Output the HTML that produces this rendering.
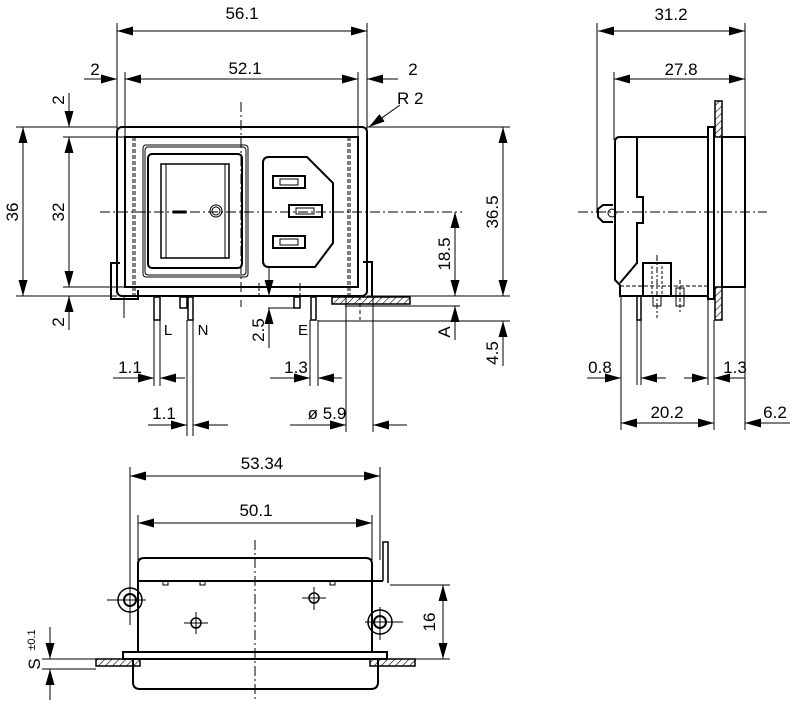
<!DOCTYPE html>
<html><head><meta charset="utf-8"><style>
html,body{margin:0;padding:0;background:#fff;}
svg{display:block;}
text{font-family:"Liberation Sans",Arial,sans-serif;font-size:17px;fill:#000;}
</style></head><body>
<svg width="790" height="702" viewBox="0 0 790 702" xmlns="http://www.w3.org/2000/svg">
<defs>
<marker id="a" markerWidth="16" markerHeight="9" refX="16" refY="4.5" orient="auto-start-reverse" markerUnits="userSpaceOnUse"><path d="M0,0 L16,4.5 L0,9 z" fill="#000"/></marker>
<pattern id="h" width="5" height="5" patternUnits="userSpaceOnUse" patternTransform="rotate(45)"><line x1="0" y1="0" x2="0" y2="5" stroke="#000" stroke-width="1.2"/></pattern>
</defs>
<g stroke="#000" fill="none" stroke-width="1">
<line x1="117" y1="23" x2="117" y2="130"/><line x1="367" y1="23" x2="367" y2="130"/>
<line x1="125" y1="72" x2="125" y2="137"/><line x1="358" y1="72" x2="358" y2="137"/>
<line x1="16" y1="127" x2="117" y2="127"/><line x1="367" y1="127" x2="510" y2="127"/>
<line x1="16" y1="296" x2="117" y2="296"/><line x1="367" y1="296" x2="510" y2="296"/>
<line x1="63" y1="137" x2="125" y2="137"/><line x1="63" y1="287" x2="125" y2="287"/>
<line x1="117" y1="31" x2="367" y2="31" marker-start="url(#a)" marker-end="url(#a)"/>
<line x1="125" y1="79" x2="358" y2="79" marker-start="url(#a)" marker-end="url(#a)"/>
<line x1="84" y1="79" x2="117" y2="79" marker-end="url(#a)"/>
<line x1="398" y1="79" x2="367" y2="79" marker-end="url(#a)"/>
<line x1="23" y1="127" x2="23" y2="296" marker-start="url(#a)" marker-end="url(#a)"/>
<line x1="69" y1="137" x2="69" y2="287" marker-start="url(#a)" marker-end="url(#a)"/>
<line x1="69" y1="93" x2="69" y2="127" marker-end="url(#a)"/>
<line x1="69" y1="330" x2="69" y2="296" marker-end="url(#a)"/>
<line x1="455" y1="212" x2="455" y2="296" marker-start="url(#a)" marker-end="url(#a)"/>
<line x1="455" y1="340" x2="455" y2="306" marker-end="url(#a)"/>
<line x1="345" y1="306" x2="460" y2="306"/>
<line x1="318" y1="321" x2="510" y2="321"/>
<line x1="503" y1="127" x2="503" y2="296" marker-start="url(#a)" marker-end="url(#a)"/>
<line x1="503" y1="366" x2="503" y2="321" marker-end="url(#a)"/>
<line x1="269" y1="267" x2="269" y2="296" marker-end="url(#a)"/>
<line x1="269" y1="348" x2="269" y2="308" marker-end="url(#a)"/>
<line x1="268" y1="308" x2="300" y2="308"/>
<line x1="400" y1="105" x2="369" y2="127" marker-end="url(#a)"/>
<line x1="113" y1="378" x2="154" y2="378" marker-end="url(#a)"/>
<line x1="185" y1="378" x2="160" y2="378" marker-end="url(#a)"/>
<line x1="148" y1="425" x2="187" y2="425" marker-end="url(#a)"/>
<line x1="228" y1="425" x2="193" y2="425" marker-end="url(#a)"/>
<line x1="270" y1="378" x2="310" y2="378" marker-end="url(#a)"/>
<line x1="342" y1="378" x2="318" y2="378" marker-end="url(#a)"/>
<line x1="290" y1="425" x2="346" y2="425" marker-end="url(#a)"/>
<line x1="407" y1="425" x2="373" y2="425" marker-end="url(#a)"/>
<line x1="346" y1="297" x2="346" y2="432"/><line x1="373" y1="297" x2="373" y2="432"/>
<line x1="241" y1="102" x2="241" y2="307" stroke-dasharray="10,3,2,3"/>
<line x1="100" y1="212" x2="462" y2="212" stroke-dasharray="10,3,2,3"/>
<line x1="124" y1="296" x2="124" y2="318"/>
<line x1="360" y1="296" x2="360" y2="320" stroke-dasharray="4,3"/>
<rect x="117" y="127" width="250" height="169" rx="5" stroke-width="2"/>
<rect x="125" y="137" width="233" height="150" stroke-width="2"/>
<line x1="133" y1="137" x2="133" y2="296" stroke-dasharray="4,2"/>
<line x1="135" y1="137" x2="135" y2="296" stroke-dasharray="4,2"/>
<line x1="348" y1="137" x2="348" y2="296" stroke-dasharray="4,2"/>
<line x1="350" y1="137" x2="350" y2="296" stroke-dasharray="4,2"/>
<rect x="143" y="145" width="105" height="132" rx="3"/>
<rect x="145" y="147" width="101" height="128" rx="3"/>
<rect x="148" y="154" width="94" height="114" rx="4" stroke-width="2"/>
<rect x="161" y="164" width="68" height="94" stroke-width="1.5"/>
<line x1="166" y1="164" x2="166" y2="258"/><line x1="225" y1="164" x2="225" y2="258"/>
<rect x="173" y="211" width="13" height="2" fill="#000"/>
<circle cx="216" cy="211" r="6"/><circle cx="216" cy="211" r="4"/>
<path d="M269,157 L307,157 L333,183 L333,243 L315,267 L269,267 Q263,267 263,261 L263,163 Q263,157 269,157 Z" stroke-width="2"/>
<rect x="273" y="176" width="32" height="12" stroke-width="2"/><rect x="280" y="179" width="18" height="6"/>
<rect x="289" y="205" width="33" height="12" stroke-width="2"/><rect x="296" y="208" width="18" height="6"/>
<rect x="273" y="236" width="32" height="12" stroke-width="2"/><rect x="280" y="239" width="18" height="6"/>
<path d="M120,263 L111,263 L111,299 L138,299 L138,290" stroke-width="2"/>
<path d="M363,262 L372,262 L372,296" stroke-width="2"/>
<line x1="259" y1="283" x2="259" y2="296" stroke-dasharray="3,2"/><line x1="300" y1="283" x2="300" y2="296" stroke-dasharray="3,2"/>
<rect x="154" y="297" width="6" height="23" stroke-width="1.5"/>
<line x1="154" y1="320" x2="154" y2="386"/><line x1="160" y1="320" x2="160" y2="386"/>
<rect x="180" y="297" width="7" height="11" stroke-width="1.5"/>
<rect x="188" y="297" width="5" height="23" stroke-width="1.5"/>
<line x1="187" y1="320" x2="187" y2="436"/><line x1="193" y1="320" x2="193" y2="436"/>
<rect x="294" y="297" width="6" height="11" stroke-width="1.5"/>
<rect x="311" y="297" width="5" height="23" stroke-width="1.5"/>
<line x1="310" y1="320" x2="310" y2="386"/><line x1="318" y1="320" x2="318" y2="386"/>
<rect x="332" y="297" width="78" height="7" fill="url(#h)" stroke-width="1.5"/>

<line x1="597" y1="23" x2="597" y2="213"/><line x1="745" y1="23" x2="745" y2="430"/>
<line x1="614" y1="72" x2="614" y2="140"/>
<line x1="598" y1="31" x2="745" y2="31" marker-start="url(#a)" marker-end="url(#a)"/>
<line x1="614" y1="79" x2="745" y2="79" marker-start="url(#a)" marker-end="url(#a)"/>
<line x1="578" y1="212" x2="767" y2="212" stroke-dasharray="10,3,2,3"/>
<path d="M620,137 L708,137 M620,137 Q615,137 615,142 L615,280 L620,285 L620,296 L708,296" stroke-width="2"/>
<path d="M637,137 L637,197 L643,197 L643,223 L637,223 L637,263 L620,283" stroke-width="2"/>
<line x1="620" y1="286" x2="708" y2="286" stroke-dasharray="4,2"/>
<rect x="708" y="127" width="6" height="172" stroke-width="2"/>
<rect x="715" y="101" width="7" height="36" fill="url(#h)" stroke-width="1.5"/>
<rect x="715" y="287" width="7" height="33" fill="url(#h)" stroke-width="1.5"/>
<rect x="722" y="137" width="23" height="150" stroke-width="2"/>
<rect x="643" y="263" width="28" height="33" stroke-width="2"/>
<line x1="652" y1="266" x2="652" y2="296" stroke-dasharray="3,2"/><line x1="662" y1="266" x2="662" y2="296" stroke-dasharray="3,2"/>
<line x1="657" y1="255" x2="657" y2="318" stroke-dasharray="6,2,2,2"/>
<rect x="653" y="296" width="8" height="10"/>
<rect x="676" y="288" width="8" height="18"/>
<line x1="680" y1="280" x2="680" y2="312" stroke-dasharray="4,2"/>
<path d="M613,205 L603,205 L598,209 L598,217 L603,222 L613,222" stroke-width="2"/>
<circle cx="612" cy="213" r="4"/>
<rect x="637" y="296" width="4" height="24" stroke-width="1.5"/>
<line x1="637" y1="320" x2="637" y2="385"/><line x1="641" y1="320" x2="641" y2="385"/>
<line x1="621" y1="296" x2="621" y2="430"/><line x1="708" y1="299" x2="708" y2="385"/><line x1="714" y1="320" x2="714" y2="430"/>
<line x1="587" y1="378" x2="621" y2="378" marker-end="url(#a)"/>
<line x1="666" y1="378" x2="641" y2="378" marker-end="url(#a)"/>
<line x1="684" y1="378" x2="708" y2="378" marker-end="url(#a)"/>
<line x1="745" y1="378" x2="714" y2="378" marker-end="url(#a)"/>
<line x1="621" y1="423" x2="714" y2="423" marker-start="url(#a)" marker-end="url(#a)"/>
<line x1="790" y1="423" x2="745" y2="423" marker-end="url(#a)"/>

<line x1="130" y1="467" x2="130" y2="625"/><line x1="380" y1="467" x2="380" y2="560"/>
<line x1="138" y1="515" x2="138" y2="560"/><line x1="372" y1="515" x2="372" y2="560"/>
<line x1="130" y1="476" x2="380" y2="476" marker-start="url(#a)" marker-end="url(#a)"/>
<line x1="138" y1="523" x2="372" y2="523" marker-start="url(#a)" marker-end="url(#a)"/>
<line x1="255" y1="540" x2="255" y2="702" stroke-dasharray="10,3,2,3"/>
<path d="M138,652 L138,564 Q138,558 144,558 L366,558 Q372,558 372,564 L372,652" stroke-width="2"/>
<line x1="138" y1="581" x2="383" y2="581" stroke-width="2"/>
<rect x="163" y="581" width="5" height="4"/><rect x="200" y="581" width="5" height="4"/><rect x="330" y="581" width="5" height="4"/>
<path d="M383,581 L383,542 L388,542 L388,583" stroke-width="1.5"/>
<rect x="123" y="652" width="264" height="7" stroke-width="2"/>
<path d="M133,659 L133,682 Q133,689 140,689 L371,689 Q378,689 378,682 L378,659" stroke-width="2"/>
<rect x="96" y="659" width="44" height="7" fill="url(#h)" stroke-width="1.5"/>
<rect x="370" y="659" width="45" height="7" fill="url(#h)" stroke-width="1.5"/>
<circle cx="130" cy="600" r="12" stroke-width="1.5"/><circle cx="130" cy="600" r="6" stroke-width="2"/>
<line x1="107" y1="600" x2="146" y2="600"/>
<circle cx="380" cy="622" r="12" stroke-width="1.5"/><circle cx="380" cy="622" r="6" stroke-width="2"/>
<line x1="365" y1="622" x2="403" y2="622"/><line x1="380" y1="607" x2="380" y2="640"/>
<circle cx="196" cy="623" r="5" stroke-width="1.5"/><line x1="184" y1="623" x2="208" y2="623"/><line x1="196" y1="612" x2="196" y2="634"/>
<circle cx="314" cy="598" r="5" stroke-width="1.5"/><line x1="302" y1="598" x2="326" y2="598"/><line x1="314" y1="587" x2="314" y2="610"/>
<line x1="390" y1="585" x2="450" y2="585"/><line x1="415" y1="659" x2="450" y2="659"/>
<line x1="443" y1="585" x2="443" y2="659" marker-start="url(#a)" marker-end="url(#a)"/>
<line x1="42" y1="659" x2="96" y2="659"/><line x1="42" y1="669" x2="96" y2="669"/>
<line x1="50" y1="627" x2="50" y2="659" marker-end="url(#a)"/>
<line x1="50" y1="700" x2="50" y2="669" marker-end="url(#a)"/>
</g>
<g>
<text x="242" y="19" text-anchor="middle">56.1</text>
<text x="245" y="74" text-anchor="middle">52.1</text>
<text x="95" y="75" text-anchor="middle">2</text>
<text x="413" y="75" text-anchor="middle">2</text>
<text x="397" y="104">R 2</text>
<text transform="translate(18,212) rotate(-90)" text-anchor="middle">36</text>
<text transform="translate(64,212) rotate(-90)" text-anchor="middle">32</text>
<text transform="translate(64,100) rotate(-90)" text-anchor="middle">2</text>
<text transform="translate(64,322) rotate(-90)" text-anchor="middle">2</text>
<text transform="translate(450,254) rotate(-90)" text-anchor="middle">18.5</text>
<text transform="translate(450,332) rotate(-90)" text-anchor="middle">A</text>
<text transform="translate(498,212) rotate(-90)" text-anchor="middle">36.5</text>
<text transform="translate(498,353) rotate(-90)" text-anchor="middle">4.5</text>
<text transform="translate(264,330) rotate(-90)" text-anchor="middle">2.5</text>
<text x="168" y="335" text-anchor="middle" style="font-size:15px">L</text>
<text x="203" y="335" text-anchor="middle" style="font-size:15px">N</text>
<text x="303" y="335" text-anchor="middle" style="font-size:15px">E</text>
<text x="130" y="373" text-anchor="middle">1.1</text>
<text x="164" y="419" text-anchor="middle">1.1</text>
<text x="296" y="373" text-anchor="middle">1.3</text>
<text x="327" y="419" text-anchor="middle">ø 5.9</text>
<text x="671" y="20" text-anchor="middle">31.2</text>
<text x="681" y="75" text-anchor="middle">27.8</text>
<text x="600" y="373" text-anchor="middle">0.8</text>
<text x="735" y="373" text-anchor="middle">1.3</text>
<text x="667" y="418" text-anchor="middle">20.2</text>
<text x="775" y="418" text-anchor="middle">6.2</text>
<text x="262" y="469" text-anchor="middle">53.34</text>
<text x="256" y="516" text-anchor="middle">50.1</text>
<text transform="translate(435,622) rotate(-90)" text-anchor="middle">16</text>
<text transform="translate(40,664) rotate(-90)" text-anchor="middle">S</text>
<text transform="translate(35,640) rotate(-90)" text-anchor="middle" style="font-size:11px">±0.1</text>
</g>
</svg>
</body></html>
